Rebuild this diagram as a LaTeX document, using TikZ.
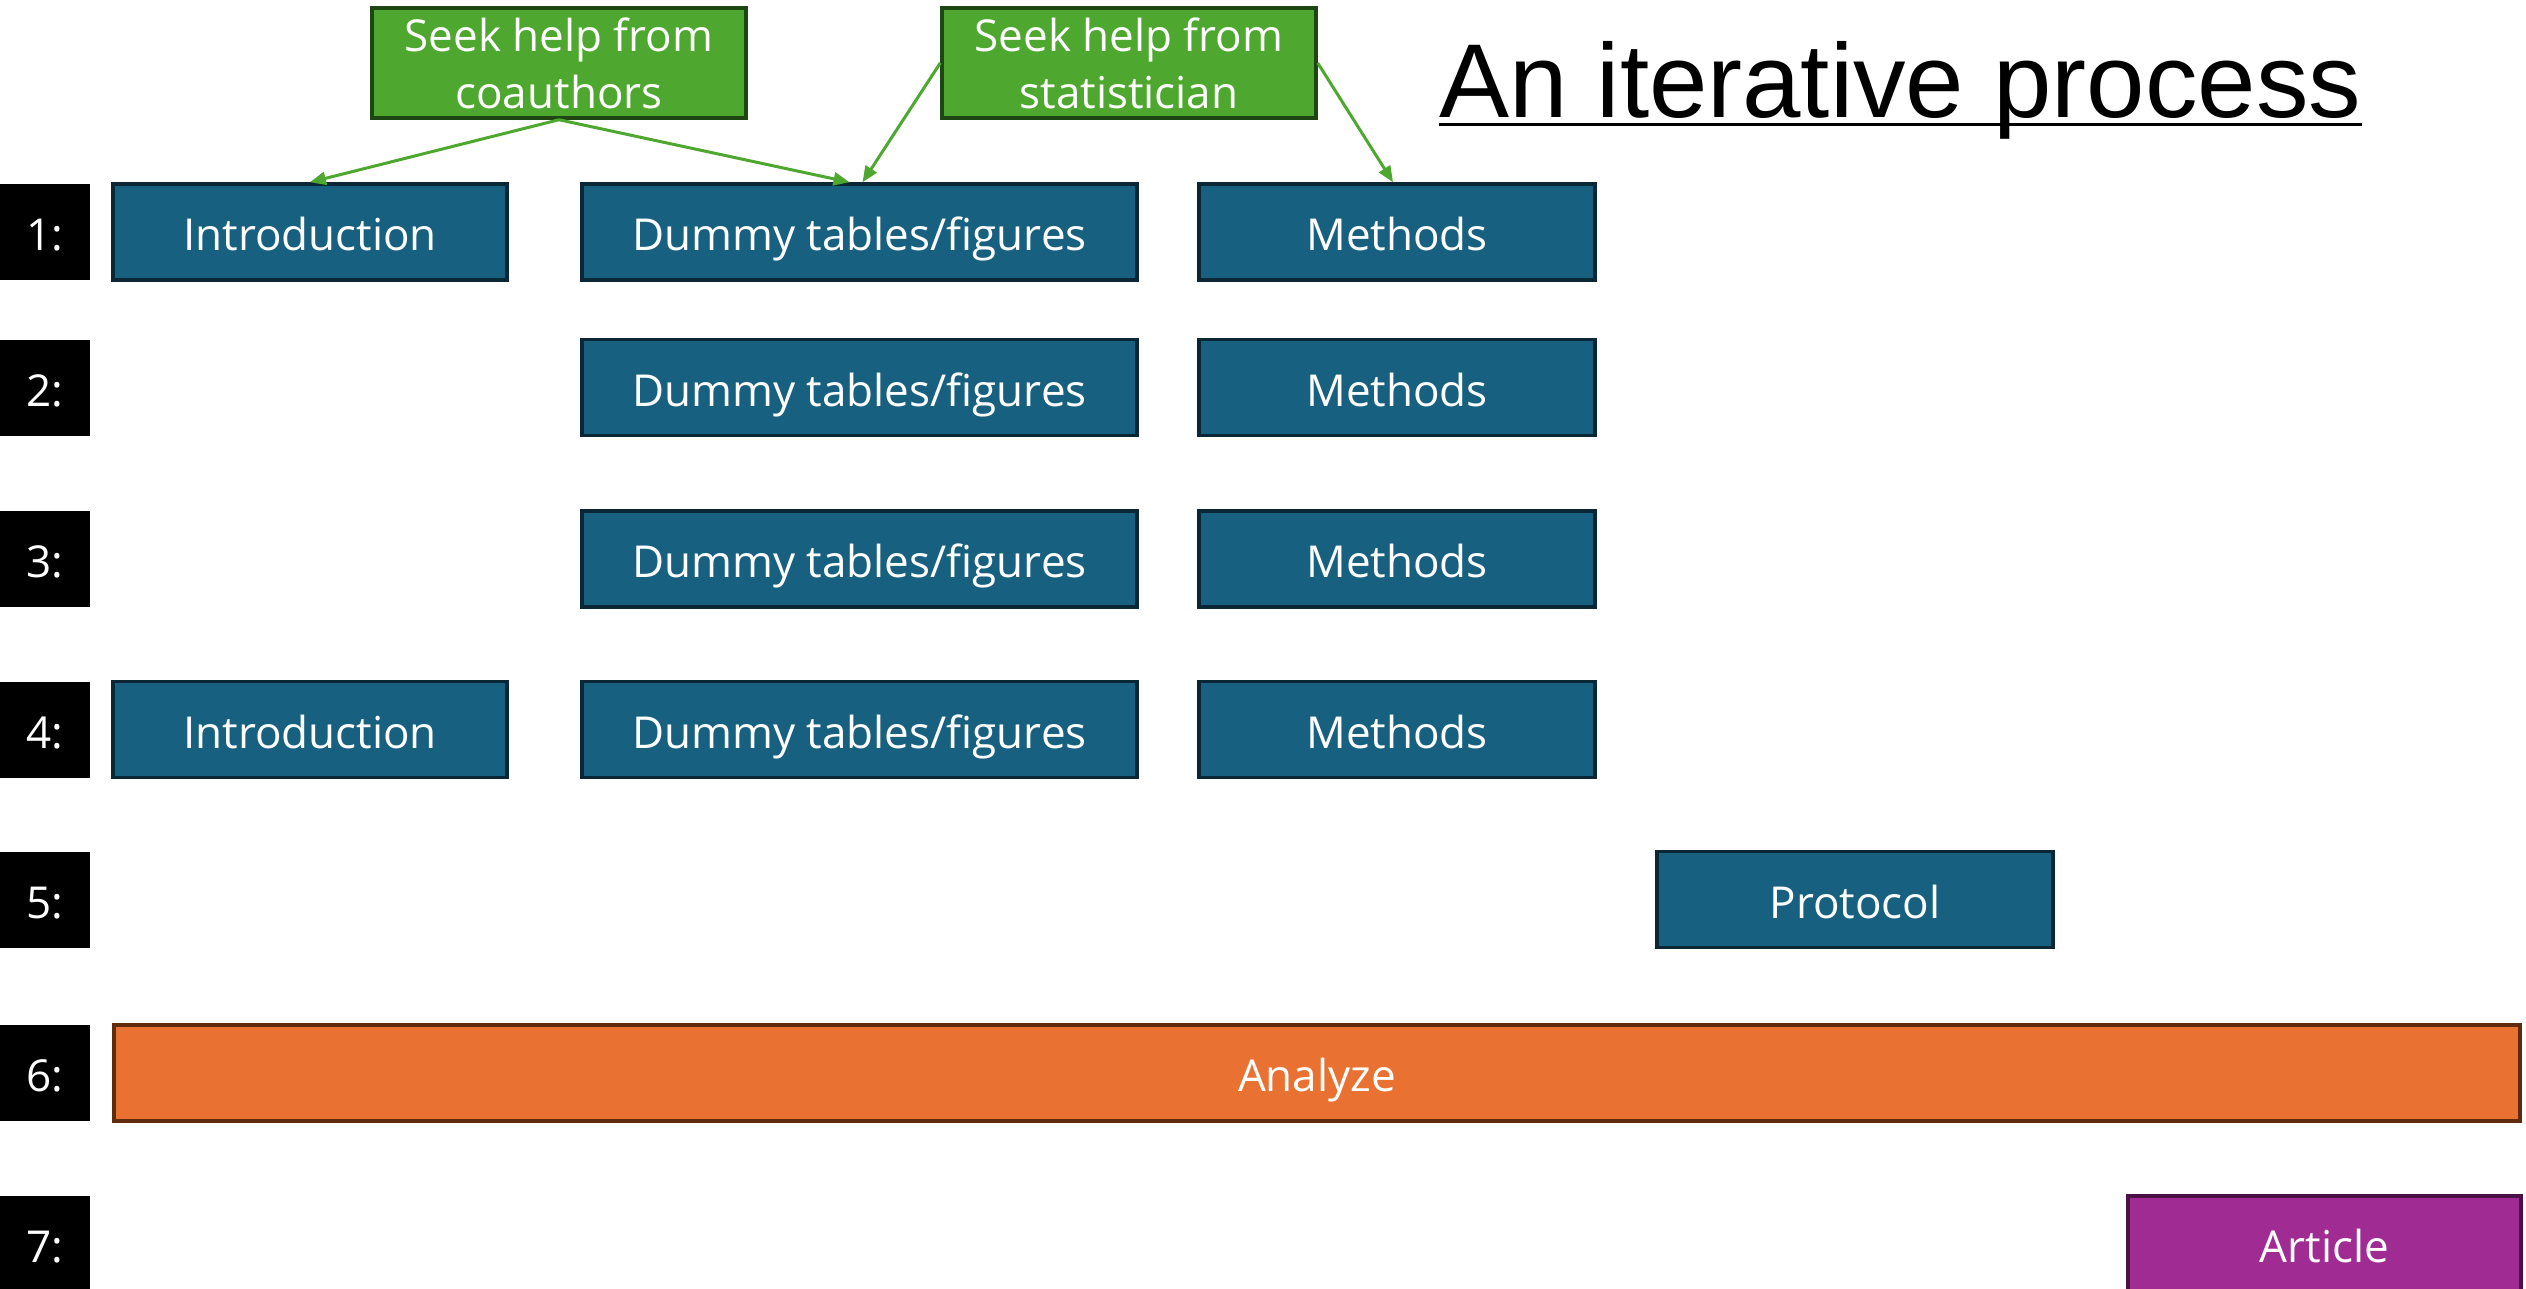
\documentclass[tikz,border=0pt]{standalone}
\usepackage{fontspec}
\setmainfont{Open Sans}
\newfontfamily\titlefont{Liberation Sans}
\usetikzlibrary{arrows.meta}
\definecolor{boxblue}{HTML}{18607F}
\definecolor{boxblueedge}{HTML}{0B2635}
\definecolor{boxgreen}{HTML}{4EA72E}
\definecolor{boxgreenedge}{HTML}{1E4612}
\definecolor{boxorange}{HTML}{E97132}
\definecolor{boxorangeedge}{HTML}{5E2B0C}
\definecolor{boxpurple}{HTML}{A02B93}
\definecolor{boxpurpleedge}{HTML}{4A1244}
\begin{document}
\begin{tikzpicture}[x=1pt,y=-1pt,
  lbl/.style={fill=black, text=white, minimum width=90pt, minimum height=96pt, inner sep=0pt, text height=40pt, text depth=3pt, font=\fontsize{44}{52}\selectfont},
  base/.style={text=white, line width=3.5pt, minimum height=96pt, inner sep=0pt, text height=40pt, text depth=3pt, font=\fontsize{44}{52}\selectfont},
  bluebox/.style={base, fill=boxblue, draw=boxblueedge},
  greenbox/.style={text=white, line width=3.5pt, inner sep=0pt, fill=boxgreen, draw=boxgreenedge, minimum height=110pt, minimum width=374pt, align=center, font=\fontsize{44}{57}\selectfont},
  orangebox/.style={base, fill=boxorange, draw=boxorangeedge},
  purplebox/.style={base, fill=boxpurple, draw=boxpurpleedge},
  helparrow/.style={draw=boxgreen, line width=3pt, -{Triangle[length=16pt,width=13pt]}}
]
\useasboundingbox (0,0) rectangle (2526,1289);
% row labels
\node[lbl] (l1) at (45,232) {1:};
\node[lbl] (l2) at (45,387.5) {2:};
\node[lbl] (l3) at (45,559) {3:};
\node[lbl] (l4) at (45,729.5) {4:};
\node[lbl] (l5) at (45,899.5) {5:};
\node[lbl] (l6) at (45,1073) {6:};
\node[lbl] (l7) at (45,1244) {7:};
% row 1
\node[bluebox, minimum width=394pt] (intro1) at (310,232) {Introduction};
\node[bluebox, minimum width=555pt] (dummy1) at (859.5,232) {Dummy tables/figures};
\node[bluebox, minimum width=396pt] (meth1) at (1397,232) {Methods};
% row 2
\node[bluebox, minimum width=555pt] (dummy2) at (859.5,387.5) {Dummy tables/figures};
\node[bluebox, minimum width=396pt] (meth2) at (1397,387.5) {Methods};
% row 3
\node[bluebox, minimum width=555pt] (dummy3) at (859.5,559) {Dummy tables/figures};
\node[bluebox, minimum width=396pt] (meth3) at (1397,559) {Methods};
% row 4
\node[bluebox, minimum width=394pt] (intro4) at (310,729.5) {Introduction};
\node[bluebox, minimum width=555pt] (dummy4) at (859.5,729.5) {Dummy tables/figures};
\node[bluebox, minimum width=396pt] (meth4) at (1397,729.5) {Methods};
% row 5
\node[bluebox, minimum width=396pt] (proto) at (1855,899.5) {Protocol};
% row 6
\node[orangebox, minimum width=2406pt] (analyze) at (1317,1073) {Analyze};
% row 7
\node[purplebox, minimum width=393pt] (article) at (2324.5,1244) {Article};
% help boxes
\node[greenbox] (coauth) at (559,63) {Seek help from\\coauthors};
\node[greenbox] (stat) at (1129,63) {Seek help from\\statistician};
% title
\node[anchor=base west, inner sep=0pt, font=\titlefont\fontsize{105}{120}\selectfont] (title) at (1439,118) {An iterative process};
\draw[line width=3pt] ([yshift=-7pt]title.base west) -- ([yshift=-7pt]title.base east);
% arrows
\draw[helparrow] (coauth.south) -- (intro1.north);
\draw[helparrow] (coauth.south) -- ([xshift=-10pt]dummy1.north);
\draw[helparrow] (stat.west) -- ([xshift=3pt]dummy1.north);
\draw[helparrow] (stat.east) -- ([xshift=-4pt]meth1.north);
\end{tikzpicture}
\end{document}
